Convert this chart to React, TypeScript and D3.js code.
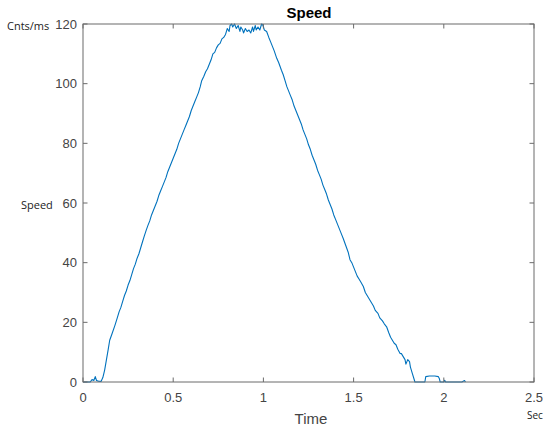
import React from "react";
import * as d3 from "d3";

const timeValues: number[] = [
  0, 0.02, 0.04, 0.05, 0.06, 0.068, 0.075, 0.085, 0.1, 0.11, 0.12, 0.13, 0.14, 0.148, 0.16, 0.177,
  0.19, 0.2, 0.21, 0.22, 0.23, 0.24, 0.25, 0.26, 0.27, 0.28, 0.29, 0.3, 0.31, 0.32, 0.33, 0.34,
  0.351, 0.36, 0.37, 0.38, 0.39, 0.4, 0.41, 0.42, 0.43, 0.44, 0.45, 0.46, 0.47, 0.48, 0.49, 0.5,
  0.51, 0.52, 0.53, 0.54, 0.55, 0.56, 0.57, 0.58, 0.59, 0.6, 0.61, 0.62, 0.63, 0.64, 0.65, 0.658,
  0.67, 0.68, 0.69, 0.7, 0.71, 0.72, 0.73, 0.74, 0.75, 0.76, 0.77, 0.78, 0.79, 0.8, 0.81, 0.815,
  0.824, 0.83, 0.84, 0.85, 0.86, 0.87, 0.875, 0.885, 0.89, 0.9, 0.91, 0.92, 0.93, 0.94, 0.945, 0.955,
  0.96, 0.97, 0.98, 0.99, 0.998, 1.005, 1.018, 1.03, 1.04, 1.05, 1.06, 1.074, 1.085, 1.1, 1.11, 1.12,
  1.13, 1.14, 1.15, 1.16, 1.17, 1.18, 1.19, 1.2, 1.21, 1.22, 1.23, 1.24, 1.25, 1.26, 1.27, 1.28,
  1.29, 1.3, 1.31, 1.32, 1.33, 1.34, 1.35, 1.36, 1.37, 1.38, 1.39, 1.4, 1.41, 1.42, 1.43, 1.443,
  1.455, 1.47, 1.48, 1.49, 1.5, 1.51, 1.52, 1.53, 1.54, 1.554, 1.565, 1.58, 1.59, 1.6, 1.61, 1.62,
  1.635, 1.645, 1.66, 1.67, 1.683, 1.695, 1.705, 1.715, 1.725, 1.735, 1.745, 1.757, 1.765, 1.775, 1.785, 1.79,
  1.8, 1.81, 1.815, 1.825, 1.835, 1.84, 1.85, 1.87, 1.895, 1.9, 1.92, 1.95, 1.97, 1.975, 1.98, 2.0,
  2.005, 2.01, 2.05, 2.1, 2.115, 2.12,
];

const speedValues: number[] = [
  0, 0, 0, 0.8, 0.5, 1.8, 0.5, 0.3, 0.2, 1.5, 4, 7.5, 11, 14, 16, 19,
  21.5, 23.5, 25, 27, 29, 30.5, 32.5, 34, 36, 38, 39.5, 41.5, 43, 45, 47, 49,
  51, 52.5, 54, 56, 57.5, 59, 60.5, 62.5, 64, 65.5, 67, 68.5, 70.5, 72, 73.5, 75,
  76.5, 78, 80, 81.5, 83, 84.5, 86, 87.5, 89, 91, 92.5, 94, 95.5, 97, 99, 101,
  102.5, 104, 105, 106.5, 108, 110, 110.5, 112, 113, 113.5, 115, 115.5, 116.5, 118.5, 117.5, 119.5,
  120, 119, 120, 118.5, 119.5, 117.5, 119, 118, 117, 118.5, 117.5, 118, 117, 119, 117.5, 119.5,
  118, 119, 118, 120, 119.5, 118, 117.5, 115.5, 114, 112.5, 111, 108.5, 107, 104.5, 103, 101,
  99, 97.5, 96, 94.5, 92.5, 91, 89.5, 88, 86.5, 84.5, 83, 81.5, 79.5, 78, 76, 74.5,
  73, 71, 69.5, 68, 66, 64.5, 63, 61, 59.5, 58, 56, 54.5, 53, 51.5, 50, 48,
  46, 43.5, 41, 40, 38.5, 37, 35.5, 34.5, 33.5, 32, 30, 28.5, 27.5, 26.5, 25.5, 24,
  23, 21.5, 20.5, 19.5, 18.5, 16.5, 15, 14, 13, 12.5, 11, 9.6, 9.5, 8.5, 7.5, 6,
  7.5, 6.8, 5, 3, 1, 0, 0, 0, 0, 1.8, 2, 2, 1.8, 1.2, 0, 0,
  0.6, 0, 0, 0, 0.5, 0,
];

const xTicks: number[] = [0, 0.5, 1, 1.5, 2, 2.5];
const xTickLabels: string[] = ["0", "0.5", "1", "1.5", "2", "2.5"];
const yTicks: number[] = [0, 20, 40, 60, 80, 100, 120];
const yTickLabels: string[] = ["0", "20", "40", "60", "80", "100", "120"];

export default function App() {
  const W = 550, H = 429;
  const left = 83, right = 534, top = 24, bottom = 382;
  const x = d3.scaleLinear().domain([0, 2.5]).range([left, right]);
  const y = d3.scaleLinear().domain([0, 120]).range([bottom, top]);
  const pts: [number, number][] = timeValues.map((t, i) => [t, speedValues[i]]);
  const line = d3
    .line<[number, number]>()
    .x((d) => x(d[0]))
    .y((d) => y(d[1]));
  const axisColor = "#6b6b6b";
  const textColor = "#444";
  const tl = 4.5;
  const font = "'Liberation Sans', Arial, sans-serif";
  const font2 = "'Open Sans', 'Noto Sans', sans-serif";
  return (
    <svg
      width={W}
      height={H}
      style={{ position: "absolute", left: 0, top: 0, background: "#fff" }}
    >
      <rect x={0} y={0} width={W} height={H} fill="#fff" />
      <path
        d={line(pts) || ""}
        fill="none"
        stroke="#0072BD"
        strokeWidth={1.1}
        strokeLinejoin="round"
      />
      <rect
        x={left}
        y={top}
        width={right - left}
        height={bottom - top}
        fill="none"
        stroke={axisColor}
        strokeWidth={1}
      />
      {xTicks.map((t, i) => (
        <g key={"x" + i}>
          <line x1={x(t)} x2={x(t)} y1={bottom} y2={bottom - tl} stroke={axisColor} />
          <line x1={x(t)} x2={x(t)} y1={top} y2={top + tl} stroke={axisColor} />
          <text
            x={x(t)}
            y={397}
            textAnchor="middle"
            dominantBaseline="central"
            fontFamily={font}
            fontSize={13}
            fill={textColor}
          >
            {xTickLabels[i]}
          </text>
        </g>
      ))}
      {yTicks.map((v, i) => (
        <g key={"y" + i}>
          <line x1={left} x2={left + tl} y1={y(v)} y2={y(v)} stroke={axisColor} />
          <line x1={right} x2={right - tl} y1={y(v)} y2={y(v)} stroke={axisColor} />
          <text
            x={77}
            y={y(v)}
            textAnchor="end"
            dominantBaseline="central"
            fontFamily={font}
            fontSize={13}
            fill={textColor}
          >
            {yTickLabels[i]}
          </text>
        </g>
      ))}
      <text
        x={309}
        y={12}
        textAnchor="middle"
        dominantBaseline="central"
        fontFamily={font}
        fontSize={15}
        fontWeight="bold"
        fill="#000"
      >
        Speed
      </text>
      <text
        x={311}
        y={418}
        textAnchor="middle"
        dominantBaseline="central"
        fontFamily={font}
        fontSize={15}
        fill={textColor}
      >
        Time
      </text>
      <text
        x={7}
        y={25}
        textAnchor="start"
        dominantBaseline="central"
        fontFamily={font2}
        fontSize={11}
        fill="#222"
      >
        Cnts/ms
      </text>
      <text
        x={21}
        y={204}
        textAnchor="start"
        dominantBaseline="central"
        fontFamily={font2}
        fontSize={11}
        fill="#222"
      >
        Speed
      </text>
      <text
        x={527}
        y={415}
        textAnchor="start"
        dominantBaseline="central"
        fontFamily={font2}
        fontSize={10}
        fill="#222"
      >
        Sec
      </text>
    </svg>
  );
}
